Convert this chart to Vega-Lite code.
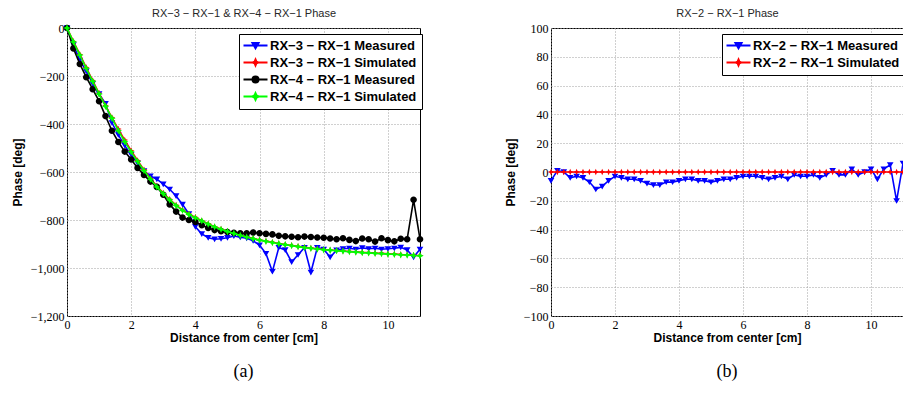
{
  "$schema": "https://vega.github.io/schema/vega-lite/v6.json",
  "padding": {"left": 10, "top": 6, "right": 0, "bottom": 0},
  "background": "white",
  "config": {
    "font": "Liberation Sans",
    "view": {"stroke": "black", "strokeWidth": 1},
    "axis": {"labelFont": "Liberation Sans Narrow", "labelFontSize": 12, "labelColor": "black", "titleFont": "Liberation Sans", "titleFontSize": 12, "titleFontWeight": "bold", "titleColor": "black", "gridColor": "#a0a0a0", "gridDash": [1, 2], "gridWidth": 1, "domain": false, "ticks": false, "labelPadding": 3, "labelFlush": false, "labelOverlap": false},
    "legend": {"strokeColor": "black", "fillColor": "white", "padding": 5, "rowPadding": 2, "labelFont": "Liberation Sans", "labelFontSize": 13, "labelFontWeight": "bold", "labelColor": "black", "symbolSize": 36, "symbolStrokeWidth": 2, "symbolOffset": 5, "labelOffset": 8},
    "title": {"font": "Liberation Serif", "fontSize": 18, "fontWeight": "normal", "color": "black"}
  },
  "resolve": {"scale": {"color": "independent", "shape": "independent", "stroke": "independent"}, "legend": {"color": "independent", "shape": "independent", "stroke": "independent"}},
  "datasets": {
    "a": [
      {"dist": 0, "RX−3 − RX−1 Measured": 0, "RX−3 − RX−1 Simulated": 0, "RX−4 − RX−1 Measured": 0, "RX−4 − RX−1 Simulated": 0},
      {"dist": 0.2, "RX−3 − RX−1 Measured": -70, "RX−3 − RX−1 Simulated": -56, "RX−4 − RX−1 Measured": -85, "RX−4 − RX−1 Simulated": -58},
      {"dist": 0.4, "RX−3 − RX−1 Measured": -135, "RX−3 − RX−1 Simulated": -110, "RX−4 − RX−1 Measured": -150, "RX−4 − RX−1 Simulated": -113},
      {"dist": 0.6, "RX−3 − RX−1 Measured": -180, "RX−3 − RX−1 Simulated": -165, "RX−4 − RX−1 Measured": -205, "RX−4 − RX−1 Simulated": -168},
      {"dist": 0.8, "RX−3 − RX−1 Measured": -232, "RX−3 − RX−1 Simulated": -219, "RX−4 − RX−1 Measured": -255, "RX−4 − RX−1 Simulated": -222},
      {"dist": 1.0, "RX−3 − RX−1 Measured": -275, "RX−3 − RX−1 Simulated": -272, "RX−4 − RX−1 Measured": -305, "RX−4 − RX−1 Simulated": -275},
      {"dist": 1.2, "RX−3 − RX−1 Measured": -315, "RX−3 − RX−1 Simulated": -323, "RX−4 − RX−1 Measured": -367, "RX−4 − RX−1 Simulated": -326},
      {"dist": 1.4, "RX−3 − RX−1 Measured": -395, "RX−3 − RX−1 Simulated": -373, "RX−4 − RX−1 Measured": -428, "RX−4 − RX−1 Simulated": -376},
      {"dist": 1.6, "RX−3 − RX−1 Measured": -445, "RX−3 − RX−1 Simulated": -421, "RX−4 − RX−1 Measured": -475, "RX−4 − RX−1 Simulated": -428},
      {"dist": 1.8, "RX−3 − RX−1 Measured": -490, "RX−3 − RX−1 Simulated": -467, "RX−4 − RX−1 Measured": -515, "RX−4 − RX−1 Simulated": -474},
      {"dist": 2.0, "RX−3 − RX−1 Measured": -528, "RX−3 − RX−1 Simulated": -511, "RX−4 − RX−1 Measured": -548, "RX−4 − RX−1 Simulated": -516},
      {"dist": 2.2, "RX−3 − RX−1 Measured": -563, "RX−3 − RX−1 Simulated": -552, "RX−4 − RX−1 Measured": -583, "RX−4 − RX−1 Simulated": -556},
      {"dist": 2.4, "RX−3 − RX−1 Measured": -595, "RX−3 − RX−1 Simulated": -591, "RX−4 − RX−1 Measured": -612, "RX−4 − RX−1 Simulated": -594},
      {"dist": 2.6, "RX−3 − RX−1 Measured": -617, "RX−3 − RX−1 Simulated": -627, "RX−4 − RX−1 Measured": -640, "RX−4 − RX−1 Simulated": -630},
      {"dist": 2.8, "RX−3 − RX−1 Measured": -630, "RX−3 − RX−1 Simulated": -659, "RX−4 − RX−1 Measured": -662, "RX−4 − RX−1 Simulated": -662},
      {"dist": 3.0, "RX−3 − RX−1 Measured": -651, "RX−3 − RX−1 Simulated": -688, "RX−4 − RX−1 Measured": -695, "RX−4 − RX−1 Simulated": -690},
      {"dist": 3.2, "RX−3 − RX−1 Measured": -672, "RX−3 − RX−1 Simulated": -714, "RX−4 − RX−1 Measured": -735, "RX−4 − RX−1 Simulated": -716},
      {"dist": 3.4, "RX−3 − RX−1 Measured": -700, "RX−3 − RX−1 Simulated": -738, "RX−4 − RX−1 Measured": -765, "RX−4 − RX−1 Simulated": -740},
      {"dist": 3.6, "RX−3 − RX−1 Measured": -735, "RX−3 − RX−1 Simulated": -758, "RX−4 − RX−1 Measured": -790, "RX−4 − RX−1 Simulated": -760},
      {"dist": 3.8, "RX−3 − RX−1 Measured": -775, "RX−3 − RX−1 Simulated": -775, "RX−4 − RX−1 Measured": -800, "RX−4 − RX−1 Simulated": -777},
      {"dist": 4.0, "RX−3 − RX−1 Measured": -828, "RX−3 − RX−1 Simulated": -789, "RX−4 − RX−1 Measured": -808, "RX−4 − RX−1 Simulated": -791},
      {"dist": 4.2, "RX−3 − RX−1 Measured": -858, "RX−3 − RX−1 Simulated": -803, "RX−4 − RX−1 Measured": -822, "RX−4 − RX−1 Simulated": -804},
      {"dist": 4.4, "RX−3 − RX−1 Measured": -874, "RX−3 − RX−1 Simulated": -816, "RX−4 − RX−1 Measured": -833, "RX−4 − RX−1 Simulated": -817},
      {"dist": 4.6, "RX−3 − RX−1 Measured": -880, "RX−3 − RX−1 Simulated": -828, "RX−4 − RX−1 Measured": -842, "RX−4 − RX−1 Simulated": -829},
      {"dist": 4.8, "RX−3 − RX−1 Measured": -878, "RX−3 − RX−1 Simulated": -838, "RX−4 − RX−1 Measured": -847, "RX−4 − RX−1 Simulated": -839},
      {"dist": 5.0, "RX−3 − RX−1 Measured": -874, "RX−3 − RX−1 Simulated": -847, "RX−4 − RX−1 Measured": -850, "RX−4 − RX−1 Simulated": -848},
      {"dist": 5.2, "RX−3 − RX−1 Measured": -867, "RX−3 − RX−1 Simulated": -855, "RX−4 − RX−1 Measured": -853, "RX−4 − RX−1 Simulated": -856},
      {"dist": 5.4, "RX−3 − RX−1 Measured": -872, "RX−3 − RX−1 Simulated": -863, "RX−4 − RX−1 Measured": -856, "RX−4 − RX−1 Simulated": -864},
      {"dist": 5.6, "RX−3 − RX−1 Measured": -876, "RX−3 − RX−1 Simulated": -870, "RX−4 − RX−1 Measured": -855, "RX−4 − RX−1 Simulated": -871},
      {"dist": 5.8, "RX−3 − RX−1 Measured": -887, "RX−3 − RX−1 Simulated": -877, "RX−4 − RX−1 Measured": -852, "RX−4 − RX−1 Simulated": -878},
      {"dist": 6.0, "RX−3 − RX−1 Measured": -905, "RX−3 − RX−1 Simulated": -883, "RX−4 − RX−1 Measured": -855, "RX−4 − RX−1 Simulated": -884},
      {"dist": 6.2, "RX−3 − RX−1 Measured": -940, "RX−3 − RX−1 Simulated": -888, "RX−4 − RX−1 Measured": -858, "RX−4 − RX−1 Simulated": -889},
      {"dist": 6.4, "RX−3 − RX−1 Measured": -1015, "RX−3 − RX−1 Simulated": -893, "RX−4 − RX−1 Measured": -860, "RX−4 − RX−1 Simulated": -894},
      {"dist": 6.6, "RX−3 − RX−1 Measured": -915, "RX−3 − RX−1 Simulated": -898, "RX−4 − RX−1 Measured": -866, "RX−4 − RX−1 Simulated": -899},
      {"dist": 6.8, "RX−3 − RX−1 Measured": -925, "RX−3 − RX−1 Simulated": -902, "RX−4 − RX−1 Measured": -868, "RX−4 − RX−1 Simulated": -903},
      {"dist": 7.0, "RX−3 − RX−1 Measured": -975, "RX−3 − RX−1 Simulated": -906, "RX−4 − RX−1 Measured": -870, "RX−4 − RX−1 Simulated": -907},
      {"dist": 7.2, "RX−3 − RX−1 Measured": -945, "RX−3 − RX−1 Simulated": -910, "RX−4 − RX−1 Measured": -872, "RX−4 − RX−1 Simulated": -911},
      {"dist": 7.4, "RX−3 − RX−1 Measured": -915, "RX−3 − RX−1 Simulated": -914, "RX−4 − RX−1 Measured": -869, "RX−4 − RX−1 Simulated": -915},
      {"dist": 7.6, "RX−3 − RX−1 Measured": -1018, "RX−3 − RX−1 Simulated": -917, "RX−4 − RX−1 Measured": -871, "RX−4 − RX−1 Simulated": -918},
      {"dist": 7.8, "RX−3 − RX−1 Measured": -915, "RX−3 − RX−1 Simulated": -920, "RX−4 − RX−1 Measured": -873, "RX−4 − RX−1 Simulated": -921},
      {"dist": 8.0, "RX−3 − RX−1 Measured": -922, "RX−3 − RX−1 Simulated": -923, "RX−4 − RX−1 Measured": -874, "RX−4 − RX−1 Simulated": -924},
      {"dist": 8.2, "RX−3 − RX−1 Measured": -955, "RX−3 − RX−1 Simulated": -925, "RX−4 − RX−1 Measured": -877, "RX−4 − RX−1 Simulated": -926},
      {"dist": 8.4, "RX−3 − RX−1 Measured": -926, "RX−3 − RX−1 Simulated": -927, "RX−4 − RX−1 Measured": -880, "RX−4 − RX−1 Simulated": -928},
      {"dist": 8.6, "RX−3 − RX−1 Measured": -920, "RX−3 − RX−1 Simulated": -929, "RX−4 − RX−1 Measured": -876, "RX−4 − RX−1 Simulated": -930},
      {"dist": 8.8, "RX−3 − RX−1 Measured": -918, "RX−3 − RX−1 Simulated": -931, "RX−4 − RX−1 Measured": -883, "RX−4 − RX−1 Simulated": -932},
      {"dist": 9.0, "RX−3 − RX−1 Measured": -922, "RX−3 − RX−1 Simulated": -933, "RX−4 − RX−1 Measured": -888, "RX−4 − RX−1 Simulated": -934},
      {"dist": 9.2, "RX−3 − RX−1 Measured": -916, "RX−3 − RX−1 Simulated": -935, "RX−4 − RX−1 Measured": -877, "RX−4 − RX−1 Simulated": -936},
      {"dist": 9.4, "RX−3 − RX−1 Measured": -920, "RX−3 − RX−1 Simulated": -936, "RX−4 − RX−1 Measured": -880, "RX−4 − RX−1 Simulated": -937},
      {"dist": 9.6, "RX−3 − RX−1 Measured": -918, "RX−3 − RX−1 Simulated": -938, "RX−4 − RX−1 Measured": -890, "RX−4 − RX−1 Simulated": -939},
      {"dist": 9.8, "RX−3 − RX−1 Measured": -922, "RX−3 − RX−1 Simulated": -939, "RX−4 − RX−1 Measured": -876, "RX−4 − RX−1 Simulated": -940},
      {"dist": 10.0, "RX−3 − RX−1 Measured": -920, "RX−3 − RX−1 Simulated": -941, "RX−4 − RX−1 Measured": -884, "RX−4 − RX−1 Simulated": -942},
      {"dist": 10.2, "RX−3 − RX−1 Measured": -918, "RX−3 − RX−1 Simulated": -942, "RX−4 − RX−1 Measured": -889, "RX−4 − RX−1 Simulated": -943},
      {"dist": 10.4, "RX−3 − RX−1 Measured": -914, "RX−3 − RX−1 Simulated": -944, "RX−4 − RX−1 Measured": -878, "RX−4 − RX−1 Simulated": -945},
      {"dist": 10.6, "RX−3 − RX−1 Measured": -925, "RX−3 − RX−1 Simulated": -945, "RX−4 − RX−1 Measured": -880, "RX−4 − RX−1 Simulated": -946},
      {"dist": 10.8, "RX−3 − RX−1 Measured": -955, "RX−3 − RX−1 Simulated": -947, "RX−4 − RX−1 Measured": -716, "RX−4 − RX−1 Simulated": -948},
      {"dist": 11.0, "RX−3 − RX−1 Measured": -922, "RX−3 − RX−1 Simulated": -948, "RX−4 − RX−1 Measured": -880, "RX−4 − RX−1 Simulated": -949}
    ],
    "b": [
      {"dist": 0, "RX−2 − RX−1 Measured": -6, "RX−2 − RX−1 Simulated": 0},
      {"dist": 0.2, "RX−2 − RX−1 Measured": 1, "RX−2 − RX−1 Simulated": 0},
      {"dist": 0.4, "RX−2 − RX−1 Measured": 0, "RX−2 − RX−1 Simulated": 0},
      {"dist": 0.6, "RX−2 − RX−1 Measured": -4, "RX−2 − RX−1 Simulated": 0},
      {"dist": 0.8, "RX−2 − RX−1 Measured": -3, "RX−2 − RX−1 Simulated": 0},
      {"dist": 1.0, "RX−2 − RX−1 Measured": -4, "RX−2 − RX−1 Simulated": 0},
      {"dist": 1.2, "RX−2 − RX−1 Measured": -7, "RX−2 − RX−1 Simulated": 0},
      {"dist": 1.4, "RX−2 − RX−1 Measured": -12, "RX−2 − RX−1 Simulated": 0},
      {"dist": 1.6, "RX−2 − RX−1 Measured": -10, "RX−2 − RX−1 Simulated": 0},
      {"dist": 1.8, "RX−2 − RX−1 Measured": -6, "RX−2 − RX−1 Simulated": 0},
      {"dist": 2.0, "RX−2 − RX−1 Measured": -3, "RX−2 − RX−1 Simulated": 0},
      {"dist": 2.2, "RX−2 − RX−1 Measured": -4, "RX−2 − RX−1 Simulated": 0},
      {"dist": 2.4, "RX−2 − RX−1 Measured": -5, "RX−2 − RX−1 Simulated": 0},
      {"dist": 2.6, "RX−2 − RX−1 Measured": -5, "RX−2 − RX−1 Simulated": 0},
      {"dist": 2.8, "RX−2 − RX−1 Measured": -6, "RX−2 − RX−1 Simulated": 0},
      {"dist": 3.0, "RX−2 − RX−1 Measured": -8, "RX−2 − RX−1 Simulated": 0},
      {"dist": 3.2, "RX−2 − RX−1 Measured": -9, "RX−2 − RX−1 Simulated": 0},
      {"dist": 3.4, "RX−2 − RX−1 Measured": -9, "RX−2 − RX−1 Simulated": 0},
      {"dist": 3.6, "RX−2 − RX−1 Measured": -7, "RX−2 − RX−1 Simulated": 0},
      {"dist": 3.8, "RX−2 − RX−1 Measured": -7, "RX−2 − RX−1 Simulated": 0},
      {"dist": 4.0, "RX−2 − RX−1 Measured": -6, "RX−2 − RX−1 Simulated": 0},
      {"dist": 4.2, "RX−2 − RX−1 Measured": -5, "RX−2 − RX−1 Simulated": 0},
      {"dist": 4.4, "RX−2 − RX−1 Measured": -5, "RX−2 − RX−1 Simulated": 0},
      {"dist": 4.6, "RX−2 − RX−1 Measured": -6, "RX−2 − RX−1 Simulated": 0},
      {"dist": 4.8, "RX−2 − RX−1 Measured": -6, "RX−2 − RX−1 Simulated": 0},
      {"dist": 5.0, "RX−2 − RX−1 Measured": -7, "RX−2 − RX−1 Simulated": 0},
      {"dist": 5.2, "RX−2 − RX−1 Measured": -6, "RX−2 − RX−1 Simulated": 0},
      {"dist": 5.4, "RX−2 − RX−1 Measured": -5, "RX−2 − RX−1 Simulated": 0},
      {"dist": 5.6, "RX−2 − RX−1 Measured": -5, "RX−2 − RX−1 Simulated": 0},
      {"dist": 5.8, "RX−2 − RX−1 Measured": -4, "RX−2 − RX−1 Simulated": 0},
      {"dist": 6.0, "RX−2 − RX−1 Measured": -3, "RX−2 − RX−1 Simulated": 0},
      {"dist": 6.2, "RX−2 − RX−1 Measured": -3, "RX−2 − RX−1 Simulated": 0},
      {"dist": 6.4, "RX−2 − RX−1 Measured": -3, "RX−2 − RX−1 Simulated": 0},
      {"dist": 6.6, "RX−2 − RX−1 Measured": -4, "RX−2 − RX−1 Simulated": 0},
      {"dist": 6.8, "RX−2 − RX−1 Measured": -5, "RX−2 − RX−1 Simulated": 0},
      {"dist": 7.0, "RX−2 − RX−1 Measured": -4, "RX−2 − RX−1 Simulated": 0},
      {"dist": 7.2, "RX−2 − RX−1 Measured": -3, "RX−2 − RX−1 Simulated": 0},
      {"dist": 7.4, "RX−2 − RX−1 Measured": -5, "RX−2 − RX−1 Simulated": 0},
      {"dist": 7.6, "RX−2 − RX−1 Measured": -2, "RX−2 − RX−1 Simulated": 0},
      {"dist": 7.8, "RX−2 − RX−1 Measured": -3, "RX−2 − RX−1 Simulated": 0},
      {"dist": 8.0, "RX−2 − RX−1 Measured": -3, "RX−2 − RX−1 Simulated": 0},
      {"dist": 8.2, "RX−2 − RX−1 Measured": -2, "RX−2 − RX−1 Simulated": 0},
      {"dist": 8.4, "RX−2 − RX−1 Measured": -4, "RX−2 − RX−1 Simulated": 0},
      {"dist": 8.6, "RX−2 − RX−1 Measured": -2, "RX−2 − RX−1 Simulated": 0},
      {"dist": 8.8, "RX−2 − RX−1 Measured": 1, "RX−2 − RX−1 Simulated": 0},
      {"dist": 9.0, "RX−2 − RX−1 Measured": -2, "RX−2 − RX−1 Simulated": 0},
      {"dist": 9.2, "RX−2 − RX−1 Measured": -2, "RX−2 − RX−1 Simulated": 0},
      {"dist": 9.4, "RX−2 − RX−1 Measured": 2, "RX−2 − RX−1 Simulated": 0},
      {"dist": 9.6, "RX−2 − RX−1 Measured": -2, "RX−2 − RX−1 Simulated": 0},
      {"dist": 9.8, "RX−2 − RX−1 Measured": 0, "RX−2 − RX−1 Simulated": 0},
      {"dist": 10.0, "RX−2 − RX−1 Measured": 2, "RX−2 − RX−1 Simulated": 0},
      {"dist": 10.2, "RX−2 − RX−1 Measured": -5, "RX−2 − RX−1 Simulated": 0},
      {"dist": 10.4, "RX−2 − RX−1 Measured": 2, "RX−2 − RX−1 Simulated": 0},
      {"dist": 10.6, "RX−2 − RX−1 Measured": 5, "RX−2 − RX−1 Simulated": 0},
      {"dist": 10.8, "RX−2 − RX−1 Measured": -20, "RX−2 − RX−1 Simulated": 0},
      {"dist": 11.0, "RX−2 − RX−1 Measured": 6, "RX−2 − RX−1 Simulated": 0}
    ]
  },
  "spacing": 69,
  "hconcat": [
    {
      "width": 353,
      "height": 288,
      "title": {"text": "(a)", "orient": "bottom", "offset": 20},
      "data": {"name": "a"},
      "transform": [{"fold": ["RX−3 − RX−1 Measured", "RX−3 − RX−1 Simulated", "RX−4 − RX−1 Measured", "RX−4 − RX−1 Simulated"], "as": ["series", "phase"]}],
      "resolve": {"axis": {"x": "independent"}},
      "encoding": {
        "y": {"field": "phase", "type": "quantitative", "scale": {"domain": [-1200, 0], "nice": false}, "axis": {"values": [-1200, -1000, -800, -600, -400, -200, 0], "grid": true, "title": "Phase [deg]", "titlePadding": 6, "labelOverlap": false}}
      },
      "layer": [
        {
          "transform": [{"filter": {"field": "series", "equal": "RX−3 − RX−1 Measured"}}],
          "mark": {"type": "line", "strokeWidth": 1.6, "color": "#0000ff"},
          "encoding": {
            "x": {"field": "dist", "type": "quantitative", "scale": {"domain": [0, 11], "nice": false}, "axis": {"values": [0, 2, 4, 6, 8, 10], "grid": true, "title": "Distance from center [cm]", "titlePadding": 2, "labelOverlap": false}}
          }
        },
        {
          "transform": [{"filter": {"field": "series", "equal": "RX−3 − RX−1 Measured"}}],
          "mark": {"type": "point", "filled": true, "size": 44, "opacity": 1},
          "encoding": {
            "x": {"field": "dist", "type": "quantitative", "axis": {"orient": "top", "labels": false, "grid": false, "title": "RX−3 − RX−1 & RX−4 − RX−1 Phase", "titleFontSize": 11, "titleFontWeight": "normal", "titleColor": "#262626", "titlePadding": 10}},
            "color": {"field": "series", "type": "nominal", "scale": {"domain": ["RX−3 − RX−1 Measured", "RX−3 − RX−1 Simulated", "RX−4 − RX−1 Measured", "RX−4 − RX−1 Simulated"], "range": ["#0000ff", "#ff0000", "#000000", "#00ff00"]}, "legend": {"title": null, "orient": "none", "legendX": 172, "legendY": 6}},
            "stroke": {"field": "series", "type": "nominal", "scale": {"domain": ["RX−3 − RX−1 Measured", "RX−3 − RX−1 Simulated", "RX−4 − RX−1 Measured", "RX−4 − RX−1 Simulated"], "range": ["#0000ff", "#ff0000", "#000000", "#00ff00"]}, "legend": {"title": null, "orient": "none", "legendX": 172, "legendY": 6}},
            "shape": {"field": "series", "type": "nominal", "scale": {"domain": ["RX−3 − RX−1 Measured", "RX−3 − RX−1 Simulated", "RX−4 − RX−1 Measured", "RX−4 − RX−1 Simulated"], "range": ["M-4,0H4M-1,-0.8L1,-0.8L0,0.9Z", "M-4,0H4M0,-1L0.3,-0.3L1,0L0.3,0.3L0,1L-0.3,0.3L-1,0L-0.3,-0.3Z", "M-4,0H4M1,0A1,1,0,1,1,-1,0A1,1,0,1,1,1,0Z", "M-4,0H4M0,-1.1L0.35,-0.35L1.1,0L0.35,0.35L0,1.1L-0.35,0.35L-1.1,0L-0.35,-0.35Z"]}, "legend": {"title": null, "orient": "none", "legendX": 172, "legendY": 6}},
            "strokeWidth": {"value": 0}
          }
        },
        {
          "transform": [{"filter": {"field": "series", "equal": "RX−3 − RX−1 Simulated"}}],
          "mark": {"type": "line", "strokeWidth": 1.6, "color": "#ff0000"},
          "encoding": {"x": {"field": "dist", "type": "quantitative", "axis": null}}
        },
        {
          "transform": [{"filter": {"field": "series", "equal": "RX−3 − RX−1 Simulated"}}],
          "mark": {"type": "point", "filled": true, "size": 44, "opacity": 1},
          "encoding": {
            "x": {"field": "dist", "type": "quantitative", "axis": null},
            "color": {"field": "series", "type": "nominal"},
            "stroke": {"field": "series", "type": "nominal"},
            "shape": {"field": "series", "type": "nominal"},
            "strokeWidth": {"value": 0}
          }
        },
        {
          "transform": [{"filter": {"field": "series", "equal": "RX−4 − RX−1 Measured"}}],
          "mark": {"type": "line", "strokeWidth": 1.6, "color": "#000000"},
          "encoding": {"x": {"field": "dist", "type": "quantitative", "axis": null}}
        },
        {
          "transform": [{"filter": {"field": "series", "equal": "RX−4 − RX−1 Measured"}}],
          "mark": {"type": "point", "filled": true, "size": 44, "opacity": 1},
          "encoding": {
            "x": {"field": "dist", "type": "quantitative", "axis": null},
            "color": {"field": "series", "type": "nominal"},
            "stroke": {"field": "series", "type": "nominal"},
            "shape": {"field": "series", "type": "nominal"},
            "strokeWidth": {"value": 0}
          }
        },
        {
          "transform": [{"filter": {"field": "series", "equal": "RX−4 − RX−1 Simulated"}}],
          "mark": {"type": "line", "strokeWidth": 1.6, "color": "#00ff00"},
          "encoding": {"x": {"field": "dist", "type": "quantitative", "axis": null}}
        },
        {
          "transform": [{"filter": {"field": "series", "equal": "RX−4 − RX−1 Simulated"}}],
          "mark": {"type": "point", "filled": true, "size": 44, "opacity": 1},
          "encoding": {
            "x": {"field": "dist", "type": "quantitative", "axis": null},
            "color": {"field": "series", "type": "nominal"},
            "stroke": {"field": "series", "type": "nominal"},
            "shape": {"field": "series", "type": "nominal"},
            "strokeWidth": {"value": 0}
          }
        }
      ]
    },
    {
      "width": 352,
      "height": 288,
      "title": {"text": "(b)", "orient": "bottom", "offset": 20},
      "data": {"name": "b"},
      "transform": [{"fold": ["RX−2 − RX−1 Measured", "RX−2 − RX−1 Simulated"], "as": ["series", "phase"]}],
      "resolve": {"axis": {"x": "independent"}},
      "encoding": {
        "y": {"field": "phase", "type": "quantitative", "scale": {"domain": [-100, 100], "nice": false}, "axis": {"values": [-100, -80, -60, -40, -20, 0, 20, 40, 60, 80, 100], "grid": true, "title": "Phase [deg]", "titlePadding": 6, "labelOverlap": false}}
      },
      "layer": [
        {
          "transform": [{"filter": {"field": "series", "equal": "RX−2 − RX−1 Measured"}}],
          "mark": {"type": "line", "strokeWidth": 1.6, "color": "#0000ff"},
          "encoding": {
            "x": {"field": "dist", "type": "quantitative", "scale": {"domain": [0, 11], "nice": false}, "axis": {"values": [0, 2, 4, 6, 8, 10], "grid": true, "title": "Distance from center [cm]", "titlePadding": 2, "labelOverlap": false}}
          }
        },
        {
          "transform": [{"filter": {"field": "series", "equal": "RX−2 − RX−1 Measured"}}],
          "mark": {"type": "point", "filled": true, "size": 44, "opacity": 1},
          "encoding": {
            "x": {"field": "dist", "type": "quantitative", "axis": {"orient": "top", "labels": false, "grid": false, "title": "RX−2 − RX−1 Phase", "titleFontSize": 11, "titleFontWeight": "normal", "titleColor": "#262626", "titlePadding": 10}},
            "color": {"field": "series", "type": "nominal", "scale": {"domain": ["RX−2 − RX−1 Measured", "RX−2 − RX−1 Simulated"], "range": ["#0000ff", "#ff0000"]}, "legend": {"title": null, "orient": "none", "legendX": 171, "legendY": 6}},
            "stroke": {"field": "series", "type": "nominal", "scale": {"domain": ["RX−2 − RX−1 Measured", "RX−2 − RX−1 Simulated"], "range": ["#0000ff", "#ff0000"]}, "legend": {"title": null, "orient": "none", "legendX": 171, "legendY": 6}},
            "shape": {"field": "series", "type": "nominal", "scale": {"domain": ["RX−2 − RX−1 Measured", "RX−2 − RX−1 Simulated"], "range": ["M-4,0H4M-1,-0.8L1,-0.8L0,0.9Z", "M-4,0H4M0,-1L0.3,-0.3L1,0L0.3,0.3L0,1L-0.3,0.3L-1,0L-0.3,-0.3Z"]}, "legend": {"title": null, "orient": "none", "legendX": 171, "legendY": 6}},
            "strokeWidth": {"value": 0}
          }
        },
        {
          "transform": [{"filter": {"field": "series", "equal": "RX−2 − RX−1 Simulated"}}],
          "mark": {"type": "line", "strokeWidth": 1.6, "color": "#ff0000"},
          "encoding": {"x": {"field": "dist", "type": "quantitative", "axis": null}}
        },
        {
          "transform": [{"filter": {"field": "series", "equal": "RX−2 − RX−1 Simulated"}}],
          "mark": {"type": "point", "filled": true, "size": 44, "opacity": 1},
          "encoding": {
            "x": {"field": "dist", "type": "quantitative", "axis": null},
            "color": {"field": "series", "type": "nominal"},
            "stroke": {"field": "series", "type": "nominal"},
            "shape": {"field": "series", "type": "nominal"},
            "strokeWidth": {"value": 0}
          }
        }
      ]
    }
  ]
}
